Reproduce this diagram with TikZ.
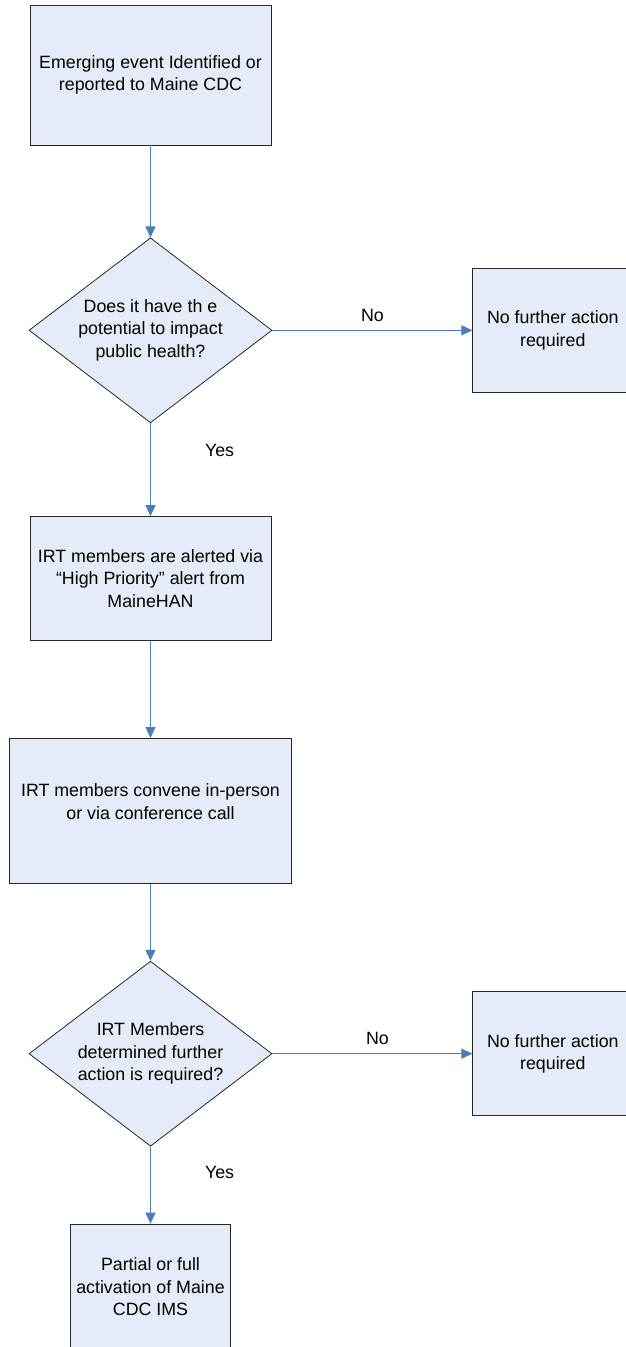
\documentclass[tikz,border=0pt]{standalone}
\usepackage{fontspec}
\setmainfont{Liberation Sans}
\usetikzlibrary{shapes.geometric, arrows.meta, positioning}
\definecolor{flowfill}{HTML}{E6ECF7}
\definecolor{flowline}{HTML}{4A7EBB}
\definecolor{flowedge}{HTML}{262626}
\tikzset{
  stepbox/.style={rectangle, draw=flowedge, fill=flowfill, line width=0.8pt,
              font=\fontsize{17.8}{22.5}\selectfont, align=center, inner sep=0pt},
  choice/.style={diamond, draw=flowedge, fill=flowfill, line width=0.8pt, aspect=1.31,
              font=\fontsize{17.8}{22.5}\selectfont, align=center, inner sep=0pt,
              minimum width=243pt, minimum height=185pt},
  flow/.style={-{Triangle[length=11pt, width=10pt]}, draw=flowline, line width=1.1pt},
  lbl/.style={font=\fontsize{17.8}{22.5}\selectfont, inner sep=0pt},
}
\begin{document}
\begin{tikzpicture}[x=1pt, y=1pt]
    \useasboundingbox (0,0) rectangle (625,-1347);
    \node[stepbox, minimum width=241pt, minimum height=140pt] (event) at (150.5,-75)
      {Emerging event Identified or\\reported to Maine CDC};
    \node[choice, below=92pt of event] (impact)
      {Does it have th e\\potential to impact\\public health?};
    \node[stepbox, right=200pt of impact, minimum width=160pt, minimum height=124pt] (stop1)
      {No further action\\required};
    \node[stepbox, below=93pt of impact, minimum width=241pt, minimum height=124pt] (alert)
      {IRT members are alerted via\\``High Priority'' alert from\\MaineHAN};
    \node[stepbox, below=97pt of alert, minimum width=282pt, minimum height=145pt] (convene)
      {IRT members convene in-person\\or via conference call\\[-4pt]};
    \node[choice, below=77pt of convene] (further)
      {IRT Members\\determined further\\action is required?};
    \node[stepbox, right=200pt of further, minimum width=160pt, minimum height=124pt] (stop2)
      {No further action\\required};
    \node[stepbox, below=77pt of further, minimum width=160pt, minimum height=126pt] (ims)
      {Partial or full\\activation of Maine\\CDC IMS};
    \draw[flow] (event) -- (impact);
    \draw[flow] (impact) -- node[lbl, above=8pt]{No} (stop1);
    \draw[flow] (impact) -- node[lbl, pos=0.29, right=54pt]{Yes} (alert);
    \draw[flow] (alert) -- (convene);
    \draw[flow] (convene) -- (further);
    \draw[flow] (further) -- node[lbl, above=8pt, xshift=5pt]{No} (stop2);
    \draw[flow] (further) -- node[lbl, pos=0.34, right=54pt]{Yes} (ims);
  \end{tikzpicture}
\end{document}
